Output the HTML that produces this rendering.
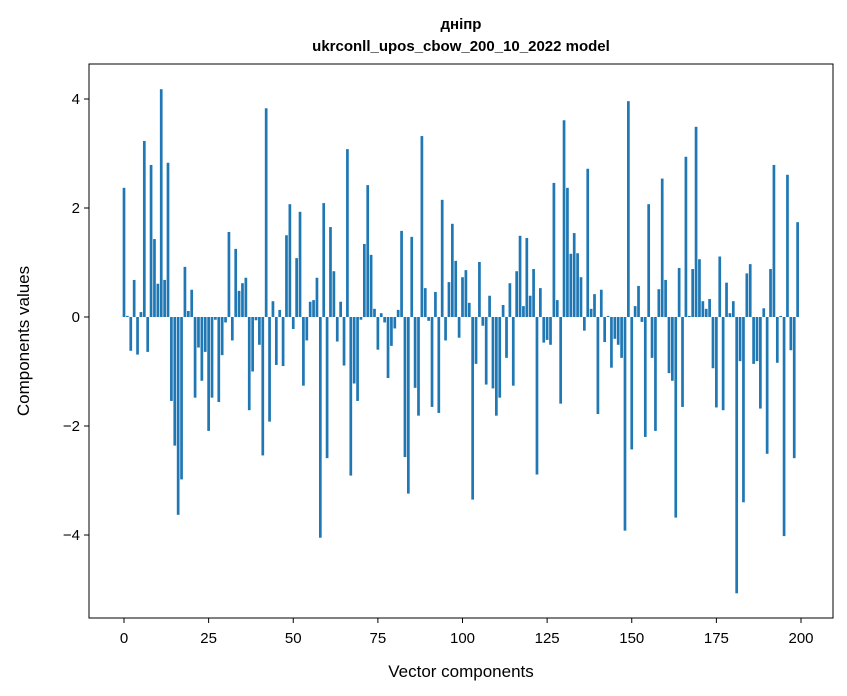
<!DOCTYPE html>
<html><head><meta charset="utf-8">
<style>
body{margin:0;background:#fff;}
svg{display:block;font-family:"Liberation Sans","DejaVu Sans",sans-serif;}
</style></head>
<body>
<svg id="chart" width="847" height="696" viewBox="0 0 847 696" xmlns="http://www.w3.org/2000/svg">
<rect x="0" y="0" width="847" height="696" fill="#fff"/>
<text x="461" y="29" text-anchor="middle" font-size="15" font-weight="bold">дніпр</text>
<text x="461" y="51" text-anchor="middle" font-size="15" font-weight="bold">ukrconll_upos_cbow_200_10_2022 model</text>
<g id="bars"></g>
<g id="xticks"></g>
<g id="yticks"></g>
<rect x="89" y="64" width="744" height="554" fill="none" stroke="#000" stroke-width="1"/>
<text x="461" y="677" text-anchor="middle" font-size="17">Vector components</text>
<text x="0" y="0" transform="translate(29,341) rotate(-90)" text-anchor="middle" font-size="17">Components values</text>
</svg>
<script>
const values = [2.37,0.02,-0.62,0.68,-0.69,0.09,3.23,-0.64,2.79,1.43,
0.61,4.18,0.68,2.83,-1.54,-2.36,-3.63,-2.98,0.92,0.11,
0.50,-1.48,-0.56,-1.17,-0.64,-2.09,-1.48,-0.05,-1.56,-0.70,
-0.10,1.56,-0.43,1.25,0.48,0.62,0.72,-1.71,-1.00,-0.06,
-0.51,-2.54,3.83,-1.92,0.29,-0.88,0.13,-0.90,1.50,2.07,
-0.22,1.08,1.93,-1.26,-0.43,0.28,0.31,0.72,-4.05,2.09,
-2.59,1.65,0.84,-0.45,0.28,-0.89,3.08,-2.91,-1.22,-1.54,
-0.05,1.34,2.42,1.14,0.15,-0.60,0.07,-0.10,-1.12,-0.53,
-0.21,0.13,1.58,-2.57,-3.24,1.47,-1.30,-1.81,3.32,0.53,
-0.07,-1.65,0.46,-1.76,2.15,-0.43,0.64,1.71,1.03,-0.38,
0.73,0.86,0.26,-3.35,-0.86,1.01,-0.16,-1.24,0.39,-1.31,
-1.81,-1.48,0.22,-0.75,0.62,-1.26,0.84,1.49,0.20,1.45,
0.39,0.88,-2.89,0.53,-0.47,-0.42,-0.51,2.46,0.31,-1.59,
3.61,2.37,1.16,1.54,1.17,0.73,-0.25,2.72,0.15,0.42,
-1.78,0.50,-0.46,0.02,-0.93,-0.40,-0.51,-0.75,-3.92,3.96,
-2.43,0.20,0.57,-0.09,-2.20,2.07,-0.75,-2.09,0.51,2.54,
0.68,-1.03,-1.17,-3.68,0.90,-1.65,2.94,0.02,0.88,3.49,
1.06,0.29,0.15,0.33,-0.94,-1.66,1.11,-1.71,0.63,0.07,
0.29,-5.07,-0.81,-3.40,0.80,0.97,-0.86,-0.81,-1.68,0.16,
-2.51,0.88,2.79,-0.84,0.02,-4.02,2.61,-0.61,-2.59,1.74];
const xTickValues = [0,25,50,75,100,125,150,175,200];
const yTickValues = [-4,-2,0,2,4];

const NS = "http://www.w3.org/2000/svg";
function xScale(i){ return 124 + 3.385*i; }
function yScale(v){ return 317 - 54.5*v; }
function fmt(v){ return v<0 ? "\u2212"+Math.abs(v) : String(v); }

const bars = document.getElementById('bars');
values.forEach(function(v,i){
  const r = document.createElementNS(NS,'rect');
  const w = 3.385*0.8;
  const y0 = yScale(0), y1 = yScale(v);
  r.setAttribute('x', xScale(i)-w/2);
  r.setAttribute('y', Math.min(y0,y1));
  r.setAttribute('width', w);
  r.setAttribute('height', Math.abs(y1-y0));
  r.setAttribute('fill', '#1f77b4');
  
  
  bars.appendChild(r);
});

const xt = document.getElementById('xticks');
xTickValues.forEach(function(t){
  const x = xScale(t);
  const l = document.createElementNS(NS,'line');
  l.setAttribute('x1',x); l.setAttribute('x2',x);
  l.setAttribute('y1',618); l.setAttribute('y2',623);
  l.setAttribute('stroke','#000');
  
  
  xt.appendChild(l);
  const tx = document.createElementNS(NS,'text');
  tx.setAttribute('x',x); tx.setAttribute('y',643);
  tx.setAttribute('text-anchor','middle');
  tx.setAttribute('font-size','15');
  tx.textContent = fmt(t);
  
  
  xt.appendChild(tx);
});

const yt = document.getElementById('yticks');
yTickValues.forEach(function(t){
  const y = yScale(t);
  const l = document.createElementNS(NS,'line');
  l.setAttribute('x1',84); l.setAttribute('x2',89);
  l.setAttribute('y1',y); l.setAttribute('y2',y);
  l.setAttribute('stroke','#000');
  
  
  yt.appendChild(l);
  const tx = document.createElementNS(NS,'text');
  tx.setAttribute('x',80); tx.setAttribute('y',y+5);
  tx.setAttribute('text-anchor','end');
  tx.setAttribute('font-size','15');
  tx.textContent = fmt(t);
  
  
  yt.appendChild(tx);
});
</script>
</body></html>
